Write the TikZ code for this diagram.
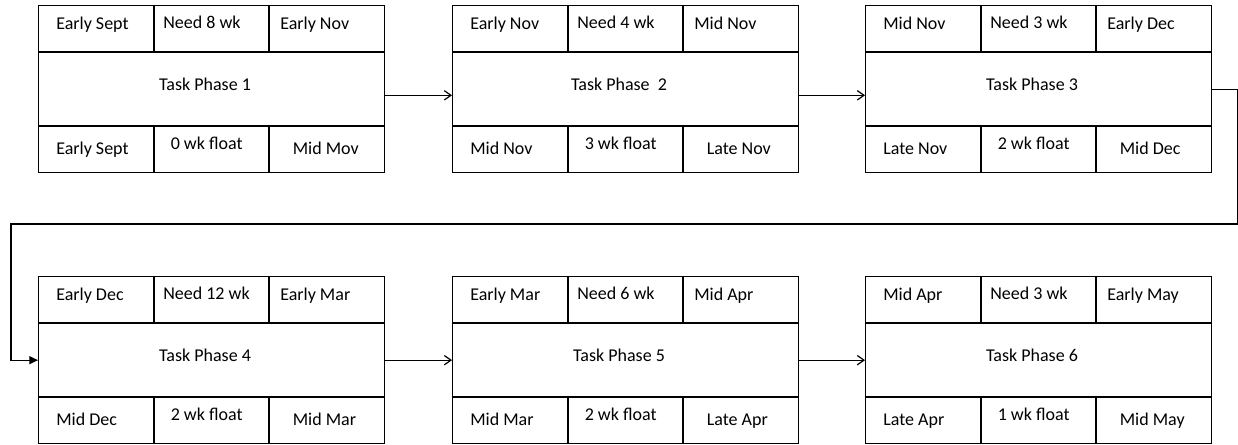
\documentclass[tikz,border=0pt]{standalone}
\usepackage{fontspec}
\setmainfont{Carlito}
\usetikzlibrary{arrows.meta}

\tikzset{
  frame/.style={draw=black, line width=1pt, minimum width=259.5pt,
    minimum height=125.25pt, inner sep=0pt, anchor=north west},
  rule/.style={draw=black, line width=1pt},
  cell/.style={anchor=base west, inner sep=0pt, font=\fontsize{13.5}{16}\selectfont},
  title/.style={anchor=base, inner sep=0pt, font=\fontsize{13.5}{16}\selectfont},
  link/.style={draw=black, line width=0.9pt, -{Straight Barb[length=5pt,width=7pt]}},
  wrap/.style={draw=black, line width=0.9pt, -{Triangle[length=6.5pt,width=6pt]}},
}

% One phase card: #1 name, #2 top-left corner, #3-#5 top row,
% #6 phase title, #7-#9 bottom row
\newcommand\phasebox[9]{%
  \begin{scope}[shift={(#2)}]
    \node[frame] (#1) at (0,0) {};
    \draw[rule] (0,47) -- (346,47) (0,121) -- (346,121)
      (116,0) -- (116,47) (231,0) -- (231,47)
      (116,121) -- (116,167) (231,121) -- (231,167);
    \node[cell] (#1-es) at (18,24) {#3};
    \node[cell] (#1-du) at (125,23.3) {#4};
    \node[cell] (#1-ef) at (242,24) {#5};
    \node[title] (#1-tt) at (167,85) {#6};
    \node[cell] (#1-ls) at (18,149.5) {#7};
    \node[cell] (#1-fl) at (132.5,144) {#8};
    \node[cell] (#1-lf) at (254.5,149.5) {#9};
  \end{scope}}

\begin{document}
\begin{tikzpicture}[x=0.75pt, y=-0.75pt]
  \useasboundingbox (0,0) rectangle (1238,444);

  \phasebox{p1}{38,5}{Early Sept}{Need 8 wk}{Early Nov}{Task Phase 1}{Early Sept}{0 wk float}{Mid Mov}
  \phasebox{p2}{452,5}{Early Nov}{Need 4 wk}{Mid Nov}{Task Phase~ 2}{Mid Nov}{3 wk float}{Late Nov}
  \phasebox{p3}{865,5}{Mid Nov}{Need 3 wk}{Early Dec}{Task Phase 3}{Late Nov}{2 wk float}{Mid Dec}
  \phasebox{p4}{38,276}{Early Dec}{Need 12 wk}{Early Mar}{Task Phase 4}{Mid Dec}{2 wk float}{Mid Mar}
  \phasebox{p5}{452,276}{Early Mar}{Need 6 wk}{Mid Apr}{Task Phase 5}{Mid Mar}{2 wk float}{Late Apr}
  \phasebox{p6}{865,276}{Mid Apr}{Need 3 wk}{Early May}{Task Phase 6}{Late Apr}{1 wk float}{Mid May}

  % links along the first row
  \draw[link] ([yshift=-4.6pt]p1.east) -- ([yshift=-4.6pt]p2.west);
  \draw[link] ([yshift=-4.6pt]p2.east) -- ([yshift=-4.6pt]p3.west);

  % wrap-around from the end of the first row to the start of the second
  \coordinate (bendR) at (1237.3,224);
  \coordinate (bendL) at (11,224);
  \draw[wrap] (p3.east) -| (bendR) -| (bendL) |- (p4.west);

  % links along the second row
  \draw[link] (p4.east) -- (p5.west);
  \draw[link] (p5.east) -- (p6.west);
\end{tikzpicture}
\end{document}
